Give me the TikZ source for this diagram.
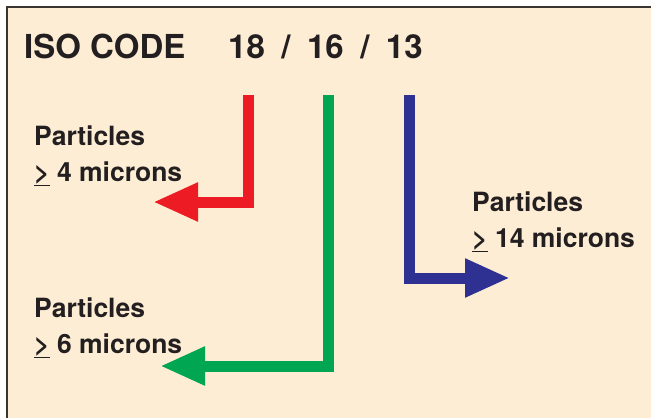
\documentclass[tikz,border=0pt]{standalone}
\usepackage{fontspec}
\setmainfont{TeX Gyre Heros}
\usetikzlibrary{arrows.meta}
\definecolor{bgfill}{HTML}{FDEDD4}
\definecolor{framec}{HTML}{3A3530}
\definecolor{rcol}{HTML}{ED1C24}
\definecolor{gcol}{HTML}{00A651}
\definecolor{bcol}{HTML}{2E3192}
\definecolor{tcol}{HTML}{231F20}
\tikzset{
  lbl/.style={anchor=base west, inner sep=0pt, text=tcol, align=left,
    font=\fontsize{26.5}{36}\selectfont\bfseries},
  ttl/.style={anchor=base west, inner sep=0pt, text=tcol,
    font=\fontsize{33}{36}\selectfont\bfseries},
  bentarrow/.style={line width=11pt, line join=miter, line cap=butt,
    -{Triangle[length=45pt,width=36pt]}}
}
\begin{document}
\begin{tikzpicture}[x=1pt,y=-1pt]
\useasboundingbox (0,0) rectangle (651,418);
\fill[white] (0,0) rectangle (651,418);
\fill[bgfill] (7,7) rectangle (651,418);
\draw[framec, line width=2pt] (7,418) -- (7,7) -- (651,7);
% title
\node[ttl] (iso) at (24,58) {ISO CODE};
\node[ttl] (code) at (228,58) {18\hskip0.5em/\hskip0.5em16\hskip0.5em/\hskip0.5em13};
% coordinates
\coordinate (rtop) at (248,95);
\coordinate (rcorner) at (248,202);
\coordinate (rtip) at (153,202);
\coordinate (gtop) at (328,95);
\coordinate (gcorner) at (328,366);
\coordinate (gtip) at (160,366);
\coordinate (btop) at (409.5,95);
\coordinate (bcorner) at (409.5,278);
\coordinate (btip) at (510,278);
% arrows
\draw[bentarrow, draw=rcol] (rtop) -- (rcorner) -- (rtip);
\draw[bentarrow, draw=gcol] (gtop) -- (gcorner) -- (gtip);
\draw[bentarrow, draw=bcol] (btop) -- (bcorner) -- (btip);
% labels (base anchor = baseline of last line)
\node[lbl] (rlab) at (34,181) {Particles\\\underline{>} 4 microns};
\node[lbl] (glab) at (34,353) {Particles\\\underline{>} 6 microns};
\node[lbl] (blab) at (472,247) {Particles\\\underline{>} 14 microns};
\end{tikzpicture}
\end{document}
